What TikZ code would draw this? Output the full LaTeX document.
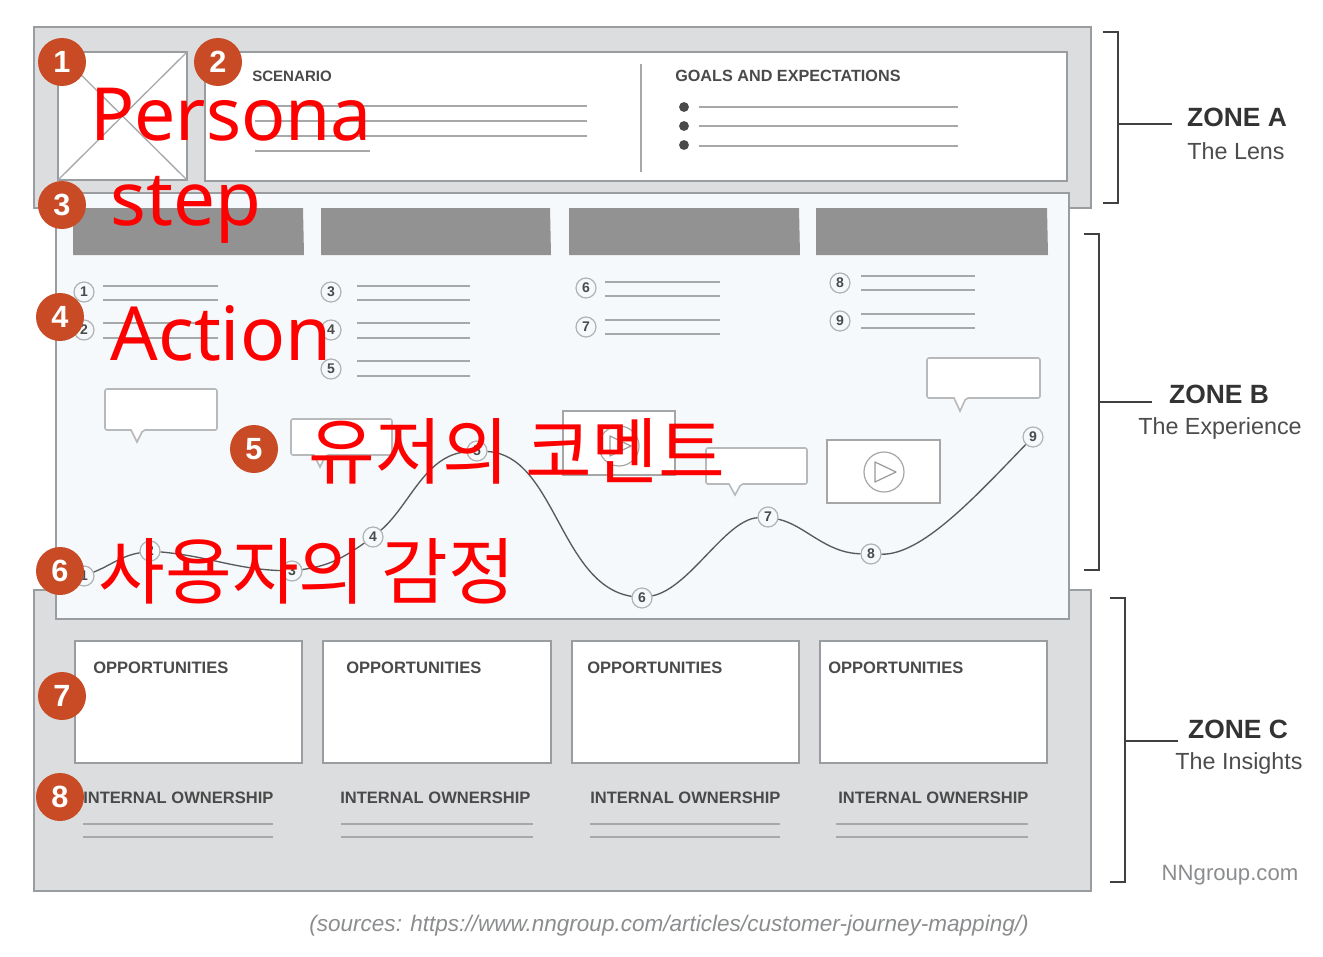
\documentclass[tikz,border=0pt]{standalone}
\usepackage{fontspec}
\setmainfont{Liberation Sans}
\newfontfamily\notolatin{Noto Sans}
\newfontfamily\cjkkr{Noto Sans CJK KR}
\definecolor{zonegray}{HTML}{DCDDDF}
\definecolor{zoneedge}{HTML}{9A9DA0}
\definecolor{paleblue}{HTML}{F5F9FB}
\definecolor{stepgray}{HTML}{919291}
\definecolor{badgeclr}{HTML}{C94B26}
\definecolor{inkgray}{HTML}{4A4A4A}
\definecolor{thinline}{HTML}{A6A8AA}
\definecolor{softtext}{HTML}{8A8C8E}
\tikzset{
  zonebox/.style={draw=zoneedge,line width=1pt,fill=zonegray},
  innerbox/.style={draw=zoneedge,line width=1pt,fill=white},
  rule/.style={draw=thinline,line width=1pt},
  callout/.style={draw=thinline!80,line width=1.2pt,fill=white,rounded corners=1.5pt},
  bracket/.style={draw=black!75,line width=0.9pt},
  badge/.style={circle,fill=badgeclr,text=white,minimum size=36pt,inner sep=0pt,font=\fontsize{23}{23}\selectfont\bfseries},
  num/.style={circle,draw=black!30,line width=0.9pt,fill=paleblue,text=inkgray,minimum size=15pt,inner sep=0pt,font=\fontsize{10.5}{11}\selectfont\bfseries},
  head/.style={anchor=west,text=inkgray,inner sep=0pt,font=\fontsize{12.4}{13}\selectfont\bfseries},
  zonetitle/.style={text=black!80,inner sep=0pt,font=\fontsize{19.8}{22}\selectfont\bfseries},
  zonesub/.style={text=black!70,inner sep=0pt,font=\fontsize{17.5}{20}\selectfont},
  redlatin/.style={text=red,inner sep=0pt,font=\notolatin\fontsize{55}{60}\selectfont},
  redkr/.style={text=red,inner sep=0pt,font=\cjkkr\fontsize{54.4}{60}\selectfont},
  curve/.style={draw=black!65,line width=1pt},
}
\begin{document}
\begin{tikzpicture}[x=0.75pt,y=-0.75pt]
\useasboundingbox (0,0) rectangle (1323,956);
% zones
\draw[zonebox] (34,27) rectangle (1091,208);
\draw[zonebox] (34,590) rectangle (1091,891);
\draw[draw=zoneedge,line width=1pt,fill=paleblue] (56,193) rectangle (1069,619);
% zone A
\draw[innerbox] (58,52) rectangle (187,180);
\draw[draw=thinline,line width=1pt] (58,180) -- (187,52) (58,52) -- (187,180);
\draw[innerbox] (205,52) rectangle (1067,181);
\draw[rule] (641,64) -- (641,172);
\node[head,font=\fontsize{11.3}{13}\selectfont\bfseries] (scenario) at (252,76) {SCENARIO};
\node[head,font=\fontsize{12.15}{13}\selectfont\bfseries] (goals) at (675,76) {GOALS AND EXPECTATIONS};
\foreach \y in {106,121,136} \draw[rule] (255,\y) -- (587,\y);
\draw[rule] (255,151) -- (370,151);
\foreach \y/\z in {107/107,126/126,145/146} {
  \fill[inkgray] (684,\y) circle (3.7pt);
  \draw[rule] (699,\z) -- (958,\z);
}
% step headers
\foreach \a/\b/\c in {73/303/304,321/550/551,569/799/800,816/1047/1048}
  \fill[stepgray] (\a,208) -- (\b,208) -- (\c,255) -- (\a,255) -- cycle;
% action lines
\foreach \a/\b/\y in {103/218/286,103/218/300,103/218/323,103/218/338,
  357/470/286,357/470/300,357/470/323,357/470/338,357/470/361,357/470/376,
  605/720/282,605/720/296,605/720/320,605/720/334,
  861/975/276,861/975/290,861/975/314,861/975/328}
  \draw[rule] (\a,\y) -- (\b,\y);
\node[num] (a1) at (84,292) {1};
\node[num] (a2) at (84,330) {2};
\node[num] (a3) at (331,292) {3};
\node[num] (a4) at (331,330) {4};
\node[num] (a5) at (331,369) {5};
\node[num] (a6) at (586,288) {6};
\node[num] (a7) at (586,327) {7};
\node[num] (a8) at (840,283) {8};
\node[num] (a9) at (840,321) {9};
% callouts
\foreach \l/\t/\r/\b/\x/\tip in {105/389/217/430/137/442, 291/419/392/455/320/467, 706/448/807/484/735/495, 927/358/1040/398/960/411}
  \draw[callout] (\l,\t) -- (\r,\t) -- (\r,\b) -- ({\x+6},\b) [sharp corners] -- (\x,\tip) -- ({\x-6},\b) [rounded corners=1.5pt] -- (\l,\b) -- cycle;
% video boxes
\foreach \l/\t/\r/\b/\cx/\cy in {563/411/675/475/619/446, 827/440/940/503/884/472} {
  \draw[draw=black!35,line width=1.1pt,fill=white] (\l,\t) rectangle (\r,\b);
  \draw[draw=black!35,line width=0.9pt] (\cx,\cy) circle (15pt);
  \draw[draw=black!40,line width=0.9pt,line join=round] ({\cx-9},{\cy-10}) -- ({\cx+12},\cy) -- ({\cx-9},{\cy+10}) -- cycle;
}
% emotion curve
\node[num] (c1) at (84,576) {1};
\node[num] (c2) at (150,551) {2};
\node[num] (c3) at (292,571) {3};
\node[num] (c4) at (373,537) {4};
\node[num] (c5) at (477,451) {5};
\node[num] (c6) at (642,598) {6};
\node[num] (c7) at (768,517) {7};
\node[num] (c8) at (871,554) {8};
\node[num] (c9) at (1033,437) {9};
\draw[curve] (c1) to[out=22,in=190] (c2);
\draw[curve] (c2) to[out=-5,in=178] (c3);
\draw[curve] (c3) to[out=8,in=215] (c4);
\draw[curve] (c4) .. controls (410,505) and (425,455) .. (c5);
\draw[curve] (c5) .. controls (555,455) and (560,585) .. (c6);
\draw[curve] (c6) .. controls (690,588) and (725,520) .. (c7);
\draw[curve] (c7) .. controls (805,525) and (825,553) .. (c8);
\draw[curve] (c8) .. controls (922,555) and (975,497) .. (c9);
% zone C
\foreach \l/\r in {75/302,323/551,572/799,820/1047}
  \draw[innerbox] (\l,641) rectangle (\r,763);
\node[head] (opp1) at (93,668) {OPPORTUNITIES};
\node[head] (opp2) at (346,668) {OPPORTUNITIES};
\node[head] (opp3) at (587,668) {OPPORTUNITIES};
\node[head] (opp4) at (828,668) {OPPORTUNITIES};
\node[head] (own1) at (83,798) {INTERNAL OWNERSHIP};
\node[head] (own2) at (340,798) {INTERNAL OWNERSHIP};
\node[head] (own3) at (590,798) {INTERNAL OWNERSHIP};
\node[head] (own4) at (838,798) {INTERNAL OWNERSHIP};
\foreach \a/\b in {83/273,341/533,590/780,836/1028} {
  \draw[rule] (\a,824) -- (\b,824);
  \draw[rule] (\a,837) -- (\b,837);
}
% brackets
\draw[bracket] (1103,32) -- (1118,32) -- (1118,203) -- (1103,203);
\draw[bracket] (1118,124) -- (1172,124);
\draw[bracket] (1084,234) -- (1099,234) -- (1099,570) -- (1084,570);
\draw[bracket] (1099,402) -- (1152,402);
\draw[bracket] (1110,598) -- (1125,598) -- (1125,882) -- (1110,882);
\draw[bracket] (1125,741) -- (1178,741);
\node[zonetitle] (za) at (1237,117) {ZONE A};
\node[zonesub] (zas) at (1236,151) {The Lens};
\node[zonetitle] (zb) at (1219,394) {ZONE B};
\node[zonesub] (zbs) at (1220,428) {The Experience};
\node[zonetitle] (zc) at (1238,729) {ZONE C};
\node[zonesub] (zcs) at (1239,763) {The Insights};
\node[text=softtext,inner sep=0pt,font=\fontsize{16.6}{18}\selectfont] (nn) at (1230,875) {NNgroup.com};
\node[text=softtext,inner sep=0pt,font=\fontsize{16.9}{18}\selectfont\itshape] (src) at (669,926) {(sources: https://www.nngroup.com/articles/customer-journey-mapping/)};
% badges
\node[badge] (b1) at (62,62) {1};
\node[badge] (b2) at (218,62) {2};
\node[badge] (b3) at (62,205) {3};
\node[badge] (b4) at (60,317) {4};
\node[badge] (b5) at (254,449) {5};
\node[badge] (b6) at (60,571) {6};
\node[badge] (b7) at (62,696) {7};
\node[badge] (b8) at (60,797) {8};
% red annotations
\node[redlatin] (t1) at (231,115) {Persona};
\node[redlatin,font=\notolatin\fontsize{56}{60}\selectfont] (t3) at (186,210) {step};
\node[redlatin,font=\notolatin\fontsize{56}{60}\selectfont] (t4) at (221,333) {Action};
\node[redkr] (t5) at (517,451) {유저의 코멘트};
\node[redkr] (t6) at (307,571) {사용자의 감정};
\end{tikzpicture}
\end{document}
